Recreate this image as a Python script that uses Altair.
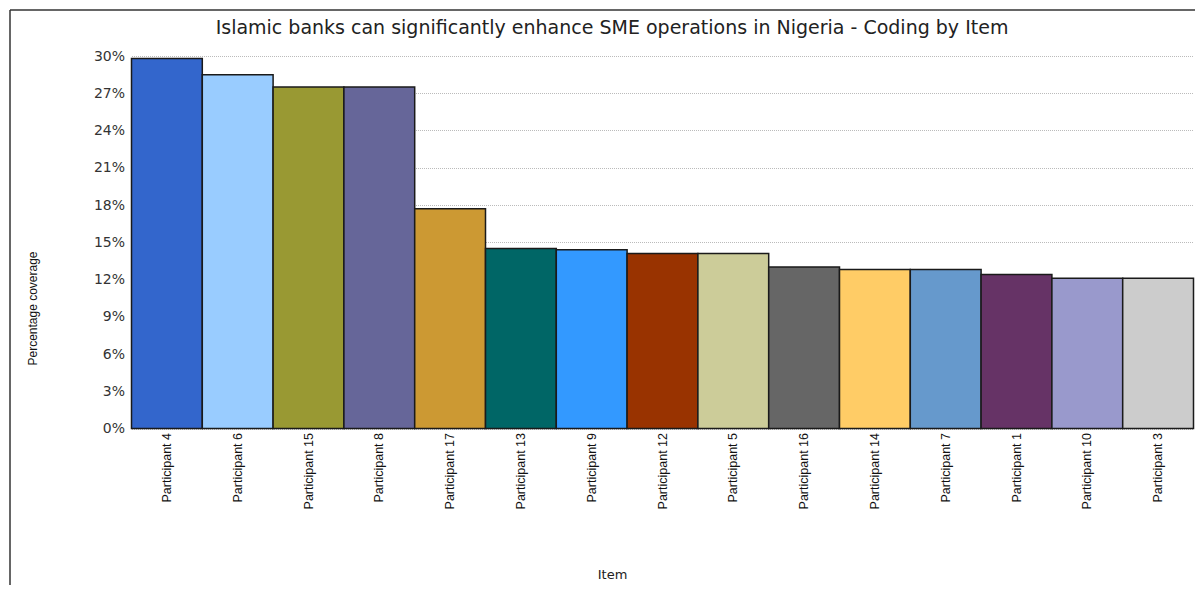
import altair as alt
import pandas as pd

title_text = "Islamic banks can significantly enhance SME operations in Nigeria - Coding by Item"
items = ["Participant 4", "Participant 6", "Participant 15", "Participant 8", "Participant 17",
         "Participant 13", "Participant 9", "Participant 12", "Participant 5", "Participant 16",
         "Participant 14", "Participant 7", "Participant 1", "Participant 10", "Participant 3"]
coverage_pct = [29.8, 28.5, 27.5, 27.5, 17.7, 14.5, 14.4, 14.1, 14.1, 13.0, 12.8, 12.8, 12.4, 12.1, 12.1]
bar_colors = ["#3366CC", "#99CCFF", "#999933", "#666699", "#CC9933", "#006666", "#3399FF", "#993300",
              "#CCCC99", "#666666", "#FFCC66", "#6699CC", "#663366", "#9999CC", "#CCCCCC"]
y_ticks = [round(i * 3 / 100, 2) for i in range(11)]

df = pd.DataFrame({"Item": items, "Coverage": [v / 100 for v in coverage_pct], "Color": bar_colors})

W = 1062
H = 372.5

bars = alt.Chart(df).mark_bar(stroke="#1a1a1a", strokeWidth=1.5).encode(
    x=alt.X("Item:N", sort=items,
            scale=alt.Scale(paddingInner=0, paddingOuter=0),
            axis=alt.Axis(title="Item", labelAngle=270, ticks=False, domain=False,
                          labelPadding=4, labelFont="Liberation Sans", labelFontSize=12.5,
                          labelColor="#111", titleFont="DejaVu Sans", titleFontSize=13,
                          titleFontWeight="normal", titleColor="#222",
                          titleX=480.5, titleY=146, titleAlign="center", titleBaseline="middle")),
    y=alt.Y("Coverage:Q", scale=alt.Scale(domain=[0, 0.3], nice=False, zero=True),
            axis=alt.Axis(title="Percentage coverage", values=y_ticks, format=".0%",
                          domain=False, ticks=False, labelPadding=7,
                          labelFont="DejaVu Sans", labelFontSize=14, labelColor="#333",
                          grid=True, gridDash=[1, 1], gridColor="#bbbbbb", gridWidth=1,
                          titleFont="Liberation Sans", titleFontSize=12, titleFontWeight="normal",
                          titleColor="#111", titleAngle=270, titleX=-99.5, titleY=252,
                          titleAlign="center", titleBaseline="middle")),
    color=alt.Color("Color:N", scale=None),
)

one = pd.DataFrame({"k": [0], "t": [title_text]})
left_frame = alt.Chart(one).mark_rule(color="#333", strokeWidth=1.5).encode(
    x=alt.value(-121.5), y=alt.value(-46), y2=alt.value(540))
top_frame = alt.Chart(one).mark_rule(color="#333", strokeWidth=1.5).encode(
    y=alt.value(-46), x=alt.value(-121.5), x2=alt.value(1080))
title_mark = alt.Chart(one).mark_text(
    font="DejaVu Sans", fontSize=19, color="#222", align="center", baseline="middle"
).encode(x=alt.value(480.5), y=alt.value(-28), text="t:N")

chart = alt.layer(bars, left_frame, top_frame, title_mark).properties(
    width=W, height=H,
    autosize=alt.AutoSizeParams(type="none"),
    padding={"left": 123.5, "top": 48, "right": 1.5, "bottom": 156},
).configure_view(stroke=None)

chart.save("out.html", embed_options={"renderer": "svg", "actions": False})
